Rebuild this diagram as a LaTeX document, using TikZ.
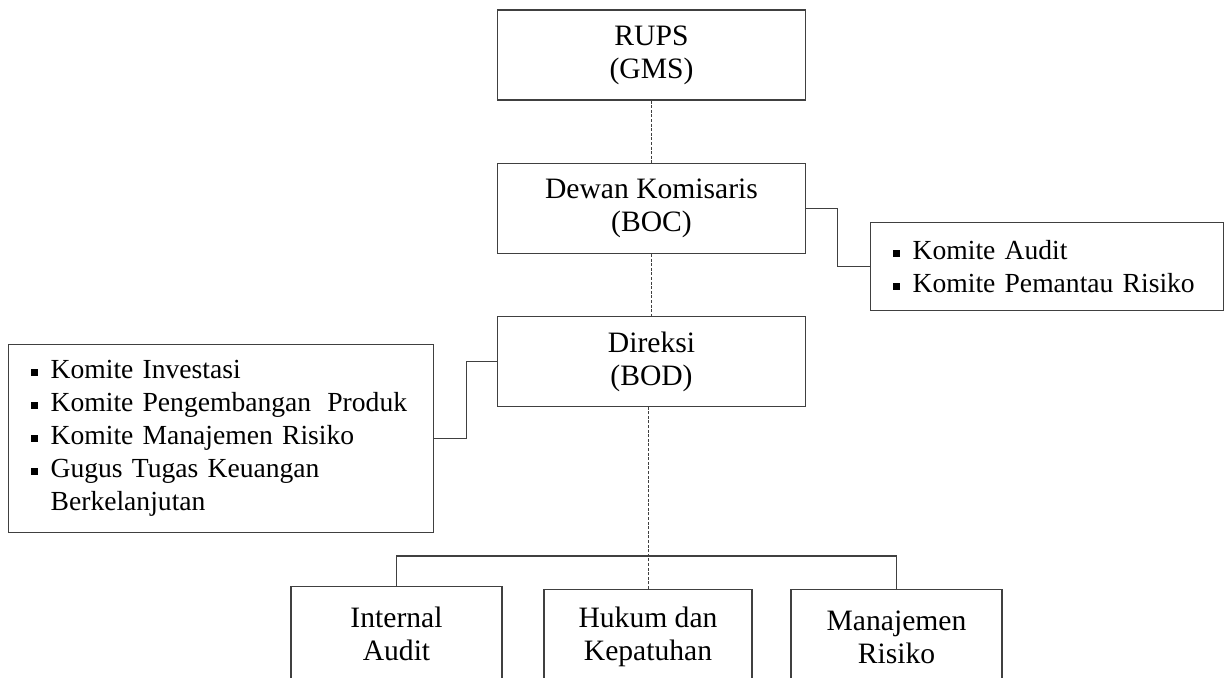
\documentclass[tikz,border=0pt]{standalone}
\usepackage{fontspec}
\setmainfont{Liberation Serif}
\usepackage{xcolor}
\usepackage{tikz}
\usetikzlibrary{positioning,calc}
\definecolor{garis}{HTML}{404040}
\newcommand{\butir}[1]{\mbox{\makebox[10pt][l]{\rule[1.5pt]{3.5pt}{3.5pt}}#1}}

\begin{document}
\begin{tikzpicture}[
    x=0.5pt, y=-0.5pt,
    font=\fontsize{14.8}{16.5}\selectfont,
    kotaknode/.style={rectangle, draw=garis, line width=0.65pt, minimum width=154pt, minimum height=45pt, inner sep=0pt, align=center},
    bawahnode/.style={kotaknode, anchor=north, minimum height=47.5pt},
    daftarnode/.style={rectangle, draw=garis, line width=0.65pt, anchor=north west, align=left, inner xsep=11pt, inner ysep=0pt, font=\fontsize{13.8}{16.5}\selectfont},
    garisputus/.style={draw=garis, line width=0.5pt, dash pattern=on 1.5pt off 0.8pt},
    garissiku/.style={draw=garis, line width=0.65pt},
    ]
    \useasboundingbox (0,0) rectangle (1226,677);
    \clip (0,0) rectangle (1226,677);

    %Nodes
    \node[kotaknode] (rups) at (651.5,55)      {RUPS\\(GMS)};
    \node[kotaknode] (boc)  [below=31pt of rups] {Dewan Komisaris\\(BOC)};
    \node[kotaknode] (bod)  [below=31pt of boc]  {Direksi\\(BOD)};
    \node[daftarnode, text width=190.5pt, minimum height=94pt] (kiri) at (8,344)
        {\butir{Komite Investasi}\\
         \butir{Komite Pengembangan\hspace{0.25em} Produk}\\
         \butir{Komite Manajemen Risiko}\\
         \butir{Gugus Tugas Keuangan}\\
         \hspace*{10pt}Berkelanjutan};
    \node[daftarnode, text width=154.5pt, minimum height=44pt] (kanan) at (870,222)
        {\butir{Komite Audit}\\
         \butir{Komite Pemantau Risiko}};
    \node[bawahnode, minimum width=105.5pt] (ia) at (396.5,586) {Internal\\Audit};
    \node[bawahnode, minimum width=104pt]   (hk) at (648,589)   {Hukum dan\\Kepatuhan};
    \node[bawahnode, minimum width=105.5pt] (mr) at (896.5,589) {Manajemen\\Risiko};

    %Lines
    \draw[garisputus] (rups.south) -- (boc.north);
    \draw[garisputus] (boc.south)  -- (bod.north);
    \draw[garisputus] (hk.north)   -- (hk.north |- bod.south);
    \draw[garissiku]  (boc.east)   -- ++(15.5pt,0) |- (kanan.west);
    \draw[garissiku]  (kiri.east)  -- ++(16pt,0)   |- (bod.west);
    \draw[garissiku]  (ia.north)   -- ++(0,15pt)   -| (mr.north);
\end{tikzpicture}
\end{document}
